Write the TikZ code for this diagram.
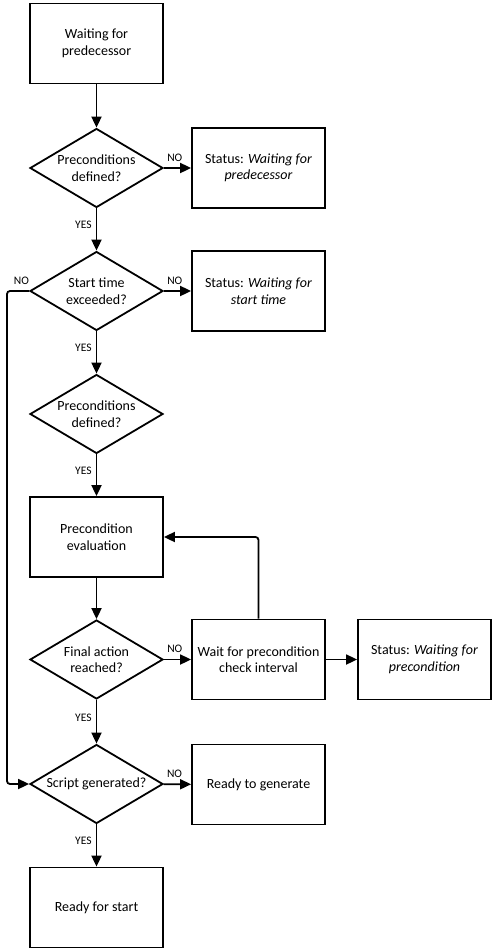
\documentclass[tikz,border=0pt]{standalone}
\usepackage{fontspec}
\setmainfont{Carlito}
\usetikzlibrary{shapes.geometric,arrows.meta}
\begin{document}
\begin{tikzpicture}[x=1pt,y=-1pt,
  every node/.style={font=\fontsize{14}{16.5}\selectfont},
  box/.style={draw,line width=1.8pt,fill=white,minimum width=133pt,minimum height=80pt,inner sep=2pt,align=center},
  dec/.style={draw,line width=1.8pt,fill=white,diamond,shape aspect=1.68,minimum width=133pt,minimum height=79pt,inner sep=0pt,align=center},
  lbl/.style={font=\fontsize{11.5}{13}\selectfont,inner sep=2pt},
  nolbl/.style={lbl,above,pos=0.4,yshift=4pt},
  yeslbl/.style={lbl,left,pos=0.4,xshift=-2pt},
  conn/.style={line width=1.8pt,-{Triangle[length=11pt,width=10pt]}}]
\useasboundingbox[fill=white] (0,0) rectangle (495,951);
\node[box] (b1) at (96.5,43.5) {Waiting for\\predecessor};
\node[dec] (d1) at (96.5,168) {Preconditions\\defined?};
\node[box] (s1) at (258.5,168) {Status: \textit{Waiting for}\\\textit{predecessor}};
\node[dec] (d2) at (96.5,291) {Start time\\exceeded?};
\node[box] (s2) at (258.5,291) {Status: \textit{Waiting for}\\\textit{start time}};
\node[dec] (d3) at (96.5,414) {Preconditions\\defined?};
\node[box] (b2) at (96.5,537) {Precondition\\evaluation};
\node[dec] (d4) at (96.5,659.5) {Final action\\reached?};
\node[box] (w) at (258.5,659.5) {Wait for precondition\\check interval};
\node[box] (s3) at (424.5,659.5) {Status: \textit{Waiting for}\\\textit{precondition}};
\node[dec] (d5) at (96.5,784) {Script generated?};
\node[box] (r) at (258.5,784.5) {Ready to generate};
\node[box] (f) at (96.5,907.5) {Ready for start};
\coordinate (lc) at (7,291);
\draw[conn] (b1) -- (d1);
\draw[conn] (d1) -- node[nolbl]{NO} (s1);
\draw[conn] (d1) -- node[yeslbl]{YES} (d2);
\draw[conn] (d2) -- node[nolbl]{NO} (s2);
\draw[conn] (d2) -- node[yeslbl]{YES} (d3);
\draw[conn] (d3) -- node[yeslbl]{YES} (b2);
\draw[conn,rounded corners=3pt] (d2.west) -- node[lbl,above,pos=0.35,yshift=4pt]{NO} (lc) |- (d5.west);
\draw[conn] (b2) -- (d4);
\draw[conn] (d4) -- node[nolbl]{NO} (w);
\draw[conn] (w) -- (s3);
\draw[conn,rounded corners=3pt] (w.north) |- (b2.east);
\draw[conn] (d4) -- node[yeslbl]{YES} (d5);
\draw[conn] (d5) -- node[nolbl]{NO} (r);
\draw[conn] (d5) -- node[yeslbl]{YES} (f);
\end{tikzpicture}
\end{document}
